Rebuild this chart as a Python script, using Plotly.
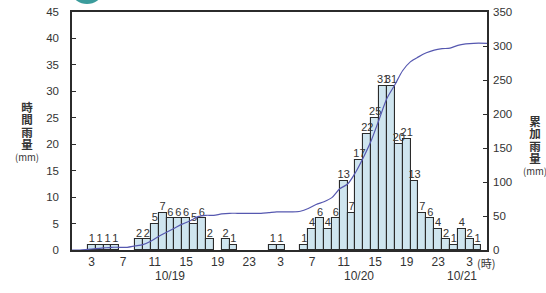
import numpy as np
import plotly.graph_objects as go

# ---- data (hour of day, hourly rainfall mm) ----
hours_1019 = [3, 4, 5, 6, 9, 10, 11, 12, 13, 14, 15, 16, 17, 18, 20, 21]
rain_1019 = [1, 1, 1, 1, 2, 2, 5, 7, 6, 6, 6, 5, 6, 2, 2, 1]
hours_1020 = [2, 3, 6, 7, 8, 9, 10, 11, 12, 13, 14, 15, 16, 17, 18, 19, 20, 21, 22, 23, 24]
rain_1020 = [1, 1, 1, 4, 6, 4, 6, 13, 7, 17, 22, 25, 31, 31, 20, 21, 13, 7, 6, 4, 2]
hours_1021 = [1, 2, 3, 4]
rain_1021 = [1, 4, 2, 1]

tick_hours = [3, 7, 11, 15, 19, 23, 27, 31, 35, 39, 43, 47, 51]
tick_labels = ["3", "7", "11", "15", "19", "23", "3", "7", "11", "15", "19", "23", "3"]
date_labels = ["10/19", "10/20", "10/21"]
date_hours = [13, 37, 50]

# ---- derived ----
x_bar = hours_1019 + [24 + h for h in hours_1020] + [48 + h for h in hours_1021]
y_bar = rain_1019 + rain_1020 + rain_1021
n = max(x_bar)
hourly = np.zeros(n + 1)
hourly[x_bar] = y_bar
cum = np.cumsum(hourly)
X0, X1 = 0.5, 53.2
line_x = [h - 0.5 for h in range(1, n + 1)] + [X1]
line_y = [float(cum[h]) for h in range(1, n + 1)] + [float(cum[n])]

# plot-area pixel geometry
W, H = 546, 293
L, R, T, B = 72, 487, 12, 250
def px(x):
    return (x - L) / (R - L)
def py(y):
    return (B - y) / (B - T)

NUM_FONT = "Liberation Sans, Arial, sans-serif"
JP_FONT = "Noto Sans CJK JP, sans-serif"
INK = "#2b2b2b"

fig = go.Figure()
fig.add_trace(go.Bar(
    x=x_bar, y=y_bar, width=1.0,
    marker=dict(color="#cfe5ef", line=dict(color=INK, width=1.1)),
    hoverinfo="x+y", showlegend=False,
))
fig.add_trace(go.Scatter(
    x=x_bar, y=y_bar, mode="text", text=[str(v) for v in y_bar],
    textposition="top center",
    textfont=dict(family=NUM_FONT, size=11, color="#333"),
    showlegend=False, hoverinfo="skip", cliponaxis=False,
))
fig.add_trace(go.Scatter(
    x=line_x, y=line_y, mode="lines", yaxis="y2",
    line=dict(color="#5658b0", width=1.2, shape="spline", smoothing=0.8),
    showlegend=False,
))

axis_common = dict(showgrid=False, zeroline=False, showline=True,
                   linecolor=INK, linewidth=1.5, automargin=False)

fig.update_layout(
    width=W, height=H,
    margin=dict(l=L, r=W - R, t=T, b=H - B),
    paper_bgcolor="white", plot_bgcolor="white",
    bargap=0,
    xaxis=dict(range=[X0, X1], tickmode="array", tickvals=tick_hours,
               ticktext=tick_labels, ticks="", mirror=True,
               tickfont=dict(family=NUM_FONT, size=12, color="#333"),
               **axis_common),
    yaxis=dict(range=[0, 45], dtick=5, ticks="inside", ticklen=4,
               tickcolor=INK, ticklabelstandoff=9,
               tickfont=dict(family=NUM_FONT, size=11.5, color="#333"),
               **axis_common),
    yaxis2=dict(range=[0, 350], dtick=50, overlaying="y", side="right",
                ticks="inside", ticklen=4, tickcolor=INK, ticklabelstandoff=2,
                tickfont=dict(family=NUM_FONT, size=11.5, color="#333"),
                **axis_common),
)

ann = []
for lab, h in zip(date_labels, date_hours):
    ann.append(dict(x=h, y=py(276), xref="x", yref="paper", text=lab,
                    showarrow=False, font=dict(family=NUM_FONT, size=12, color="#333"),
                    xanchor="center", yanchor="middle"))
ann.append(dict(x=px(486), y=py(263), xref="paper", yref="paper", text="(時)",
                showarrow=False, font=dict(family=JP_FONT, size=11, color="#333"),
                xanchor="center", yanchor="middle"))

def stacked(chars):
    parts = ["<span style='font-size:11.5px'><b>%s</b></span>" % c for c in chars]
    parts.append("<span style='font-size:9.5px'>(mm)</span>")
    return "<br>".join(parts)

ann.append(dict(x=px(27), y=py(131), xref="paper", yref="paper", text=stacked("時間雨量"),
                showarrow=False, xanchor="center", yanchor="middle", align="center",
                font=dict(family=JP_FONT, size=9.5, color="#333")))
ann.append(dict(x=px(535), y=py(145), xref="paper", yref="paper", text=stacked("累加雨量"),
                showarrow=False, xanchor="center", yanchor="middle", align="center",
                font=dict(family=JP_FONT, size=9.5, color="#333")))
fig.update_layout(annotations=ann)

# partially cropped teal header icon at top-left
fig.add_shape(type="circle", xref="paper", yref="paper",
              x0=px(73), x1=px(101), y0=py(4), y1=py(-16),
              fillcolor="#3b9c9c", line=dict(width=0), layer="above")

fig.write_html("out.html", config={"displayModeBar": False},
               post_script="document.body.style.margin='0';document.body.style.overflow='hidden';")
